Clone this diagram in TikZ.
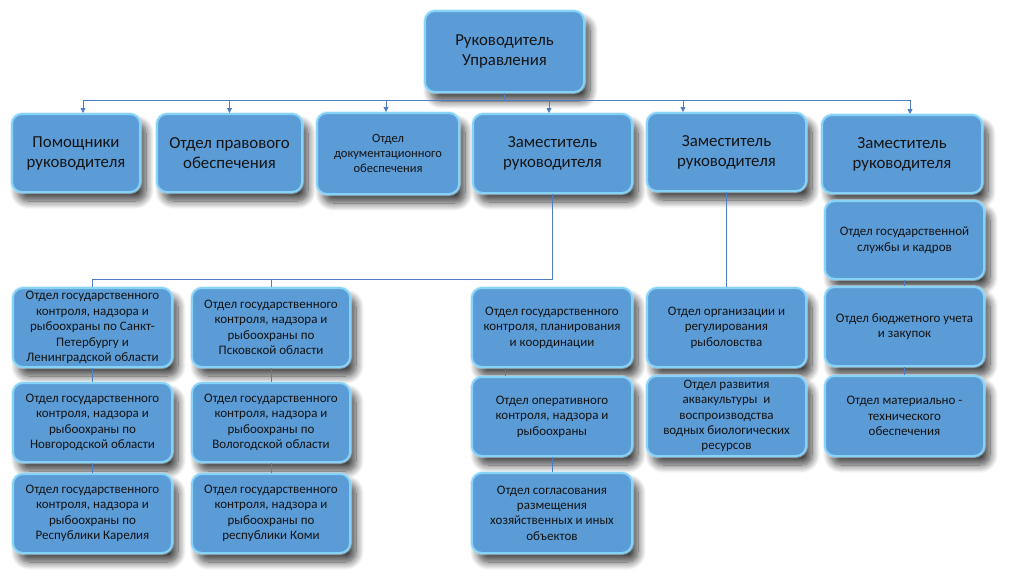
\documentclass[tikz,border=0pt]{standalone}
\usepackage{fontspec}
\setmainfont{Carlito}
\usetikzlibrary{arrows.meta,shadows.blur}
\definecolor{boxfill}{HTML}{5B9BD6}
\definecolor{glow}{HTML}{86D3F7}
\definecolor{lineblue}{HTML}{4F7DC4}
\begin{document}
\begin{tikzpicture}[x=1pt,y=-1pt,
  box/.style={draw=glow, line width=2pt, fill=boxfill, rounded corners=10pt,
    align=center, text=black!92, inner sep=2pt,
    blur shadow={shadow xshift=6pt, shadow yshift=-9pt, shadow blur steps=12,
      shadow opacity=75, shadow blur radius=8pt},
    preaction={draw=glow!50!white, line width=4pt, opacity=.5}},
  big/.style={font=\fontsize{16.8}{20}\selectfont},
  small/.style={font=\fontsize{13}{15.4}\selectfont},
  tiny/.style={font=\fontsize{12.5}{15}\selectfont},
  conn/.style={draw=lineblue, line width=0.8pt},
  arr/.style={conn, -{Triangle[length=5pt,width=5pt]}}
]
\useasboundingbox (0,0) rectangle (1024,576);

% top
\node[box,big,minimum width=159pt,minimum height=81pt] (top) at (504.5,51.5) {Руководитель\\Управления};

% row 1
\node[box,big,minimum width=128pt,minimum height=78pt] (pom) at (76,153) {Помощники\\руководителя};
\node[box,big,minimum width=145pt,minimum height=78pt] (prav) at (229.5,153) {Отдел правового\\обеспечения};
\node[box,tiny,minimum width=142pt,minimum height=81pt] (doc) at (388,153.5) {Отдел\\документационного\\обеспечения};
\node[box,big,minimum width=159pt,minimum height=79pt] (zam1) at (552.5,153.5) {Заместитель\\руководителя};
\node[box,big,minimum width=159pt,minimum height=78pt] (zam2) at (726.5,152) {Заместитель\\руководителя};
\node[box,big,minimum width=160pt,minimum height=78pt] (zam3) at (902,154) {Заместитель\\руководителя};

% column A
\node[box,small,minimum width=159pt,minimum height=79pt] (A1) at (92.5,327.5) {Отдел государственного\\контроля, надзора и\\рыбоохраны по Санкт-\\Петербургу и\\Ленинградской области};
\node[box,small,minimum width=159pt,minimum height=79pt] (A2) at (92.5,422.5) {Отдел государственного\\контроля, надзора и\\рыбоохраны по\\Новгородской области};
\node[box,small,minimum width=159pt,minimum height=79pt] (A3) at (92.5,513.5) {Отдел государственного\\контроля, надзора и\\рыбоохраны по\\Республики Карелия};

% column B
\node[box,small,minimum width=158pt,minimum height=79pt] (B1) at (271,327.5) {Отдел государственного\\контроля, надзора и\\рыбоохраны по\\Псковской области};
\node[box,small,minimum width=158pt,minimum height=79pt] (B2) at (271,422.5) {Отдел государственного\\контроля, надзора и\\рыбоохраны по\\Вологодской области};
\node[box,small,minimum width=158pt,minimum height=79pt] (B3) at (271,513.5) {Отдел государственного\\контроля, надзора и\\рыбоохраны по\\республики Коми};

% column C
\node[box,small,minimum width=160pt,minimum height=79pt] (C1) at (552,327.5) {Отдел государственного\\контроля, планирования\\и координации};
\node[box,small,minimum width=160pt,minimum height=79pt] (C2) at (552,416.5) {Отдел оперативного\\контроля, надзора и\\рыбоохраны};
\node[box,small,minimum width=160pt,minimum height=80pt] (C3) at (552,513) {Отдел согласования\\размещения\\хозяйственных и иных\\объектов};

% column D
\node[box,small,minimum width=159pt,minimum height=79pt] (D1) at (726.5,327.5) {Отдел организации и\\регулирования\\рыболовства};
\node[box,small,minimum width=159pt,minimum height=80pt] (D2) at (726.5,416) {Отдел развития\\аквакультуры~ и\\воспроизводства\\водных биологических\\ресурсов};

% column E
\node[box,small,minimum width=159pt,minimum height=78pt] (E1) at (904.5,240) {Отдел государственной\\службы и кадров};
\node[box,small,minimum width=159pt,minimum height=79pt] (E2) at (904.5,326.5) {Отдел бюджетного учета\\и закупок};
\node[box,small,minimum width=159pt,minimum height=80pt] (E3) at (904.5,416) {Отдел материально -\\технического\\обеспечения};

% connectors, top level
\coordinate (bus) at (504.5,100);
\draw[conn] (top.south) -- (bus);
\draw[arr] (bus) -| ([xshift=7pt]pom.north);
\draw[arr] (bus) -| (prav.north);
\draw[arr] (bus) -| ([xshift=-2pt]doc.north);
\draw[arr] (bus) -| ([xshift=-3.5pt]zam1.north);
\draw[arr] (bus) -| ([xshift=-43.5pt]zam2.north);
\draw[arr] (bus) -| ([xshift=8pt]zam3.north);

% connectors, lower
\coordinate (bus2) at (552.5,279);
\draw[conn] (zam1.south) -- (bus2);
\draw[conn] (bus2) -| (A1.north);
\draw[conn] (bus2) -| (B1.north);
\draw[conn] (zam2.south) -- (D1.north);
\draw[conn] (A1.south) -- (A2.north);
\draw[conn] (A2.south) -- (A3.north);
\draw[conn] (B1.south) -- (B2.north);
\draw[conn] (B2.south) -- (B3.north);
\draw[conn] ([xshift=-47pt]C1.south) -- ([xshift=-47pt]C2.north);
\draw[conn] (C2.south) -- (C3.north);
\draw[conn] (E1.south) -- (E2.north);
\draw[conn] (E2.south) -- (E3.north);
\end{tikzpicture}
\end{document}
